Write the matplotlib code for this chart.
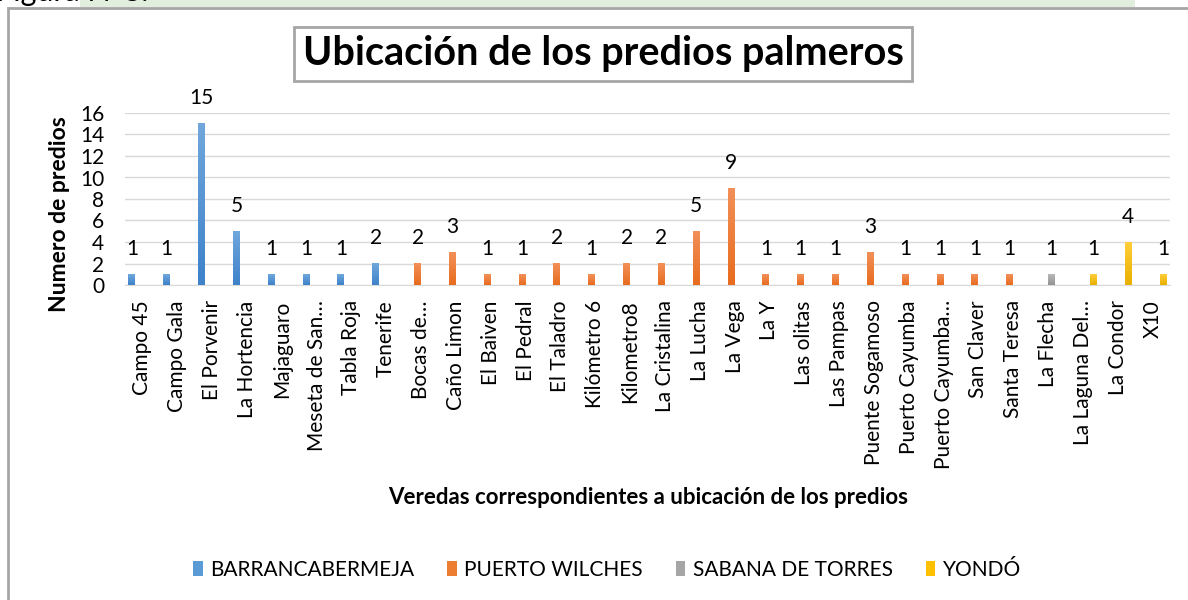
import matplotlib
matplotlib.use("Agg")
import matplotlib.pyplot as plt
from matplotlib.patches import Rectangle, Patch
from matplotlib.colors import LinearSegmentedColormap
import numpy as np

plt.rcParams['font.family'] = ['Lato', 'DejaVu Sans']

# veredas, agrupadas por municipio
barranca = ["Campo 45", "Campo Gala", "El Porvenir", "La Hortencia", "Majaguaro",
            "Meseta de San…", "Tabla Roja", "Tenerife"]
barranca_vals = [1, 1, 15, 5, 1, 1, 1, 2]

wilches = ["Bocas de…", "Caño Limon", "El Baiven", "El Pedral", "El Taladro",
           "Kilómetro 6", "Kilometro8", "La Cristalina", "La Lucha", "La Vega",
           "La Y", "Las olitas", "Las Pampas", "Puente Sogamoso", "Puerto Cayumba",
           "Puerto Cayumba…", "San Claver", "Santa Teresa"]
wilches_vals = [2, 3, 1, 1, 2, 1, 2, 2, 5, 9, 1, 1, 1, 3, 1, 1, 1, 1]

sabana = ["La Flecha"]
sabana_vals = [1]

yondo = ["La Laguna Del…", "La Condor", "X10"]
yondo_vals = [1, 4, 1]

municipios = ["BARRANCABERMEJA", "PUERTO WILCHES", "SABANA DE TORRES", "YONDÓ"]
colores = ["#5B9BD5", "#ED7D31", "#A5A5A5", "#FFC000"]
# excel style gradient, bottom -> top
grad = [("#3E82CA", "#70A7DC"), ("#E86C1E", "#F29059"),
        ("#939393", "#B8B8B8"), ("#E8B000", "#FFCE3A")]

groups = [(barranca, barranca_vals), (wilches, wilches_vals),
          (sabana, sabana_vals), (yondo, yondo_vals)]
labels = barranca + wilches + sabana + yondo
n = len(labels)

fig = plt.figure(figsize=(11.88, 6), dpi=100)
ax = fig.add_axes([125 / 1188, 1 - 285 / 600, 1045 / 1188, 172 / 600])

# clustered bars like excel: each series has its own slot inside the category
width = 0.2
ramp = np.linspace(0, 1, 64).reshape(-1, 1)
start = 0
for i, (names, vals) in enumerate(groups):
    x = np.arange(start, start + len(names)) + (i - 1.5) * width
    bars = ax.bar(x, vals, width=width, color=colores[i], zorder=3)
    cmap = LinearSegmentedColormap.from_list("g%d" % i, grad[i])
    for b, v in zip(bars, vals):
        ax.imshow(ramp, cmap=cmap, origin="lower", aspect="auto", zorder=3.5,
                  extent=(b.get_x(), b.get_x() + b.get_width(), 0, v))
        ax.annotate(str(v), (b.get_x() + b.get_width() / 2, v),
                    xytext=(0, 11), textcoords="offset points",
                    ha="center", va="bottom", fontsize=15)
    start += len(names)

ax.set_xlim(-0.5, n - 0.5)
ax.set_ylim(0, 16)
ax.set_yticks(range(0, 17, 2))
ax.set_xticks(range(n))
ax.set_xticklabels(labels, rotation=90, fontsize=15)
ax.tick_params(axis="x", length=0, pad=11)
ax.tick_params(axis="y", length=0, pad=15, labelsize=15)
ax.grid(axis="y", color="#D9D9D9", linewidth=1, zorder=0)
for s in ["left", "right", "top"]:
    ax.spines[s].set_visible(False)
ax.spines["bottom"].set_color("#D9D9D9")

fig.text(60 / 1188, 1 - 214 / 600, "Numero de predios", rotation=90,
         ha="center", va="center", fontsize=16.5, fontweight="bold")
fig.text(648 / 1188, 1 - 498 / 600, "Veredas correspondientes a ubicación de los predios",
         ha="center", va="center", fontsize=16, fontweight="bold")

fig.text(603 / 1188, 1 - 54 / 600, "Ubicación de los predios palmeros",
         ha="center", va="center", fontsize=28.5, fontweight="bold",
         bbox=dict(boxstyle="square,pad=0.22", facecolor="white", edgecolor="#A6A6A6", linewidth=2))

handles = [Patch(facecolor=c) for c in colores]
fig.legend(handles, municipios, loc="center", bbox_to_anchor=(607 / 1188, 1 - 570 / 600),
           ncol=4, frameon=False, fontsize=15, handlelength=0.45, handleheight=0.7,
           handletextpad=0.35, columnspacing=1.6)

# cut page strip on top, then the outer chart border (runs off right and bottom)
fig.patches.append(Rectangle((80 / 1188, 1 - 7 / 600), 1055 / 1188, 7 / 600, transform=fig.transFigure,
                             facecolor="#E2EEDD", edgecolor="none"))
fig.text(-4 / 1188, 1 - 1 / 600, "Figura N°8.", fontsize=22, va="baseline", ha="left")
fig.patches.append(Rectangle((8 / 1188, -0.05), 1.1, 1 - 8 / 600 + 0.05, transform=fig.transFigure,
                             fill=False, edgecolor="#A6A6A6", linewidth=2))

fig.savefig("out.png", dpi=100, facecolor="white")
